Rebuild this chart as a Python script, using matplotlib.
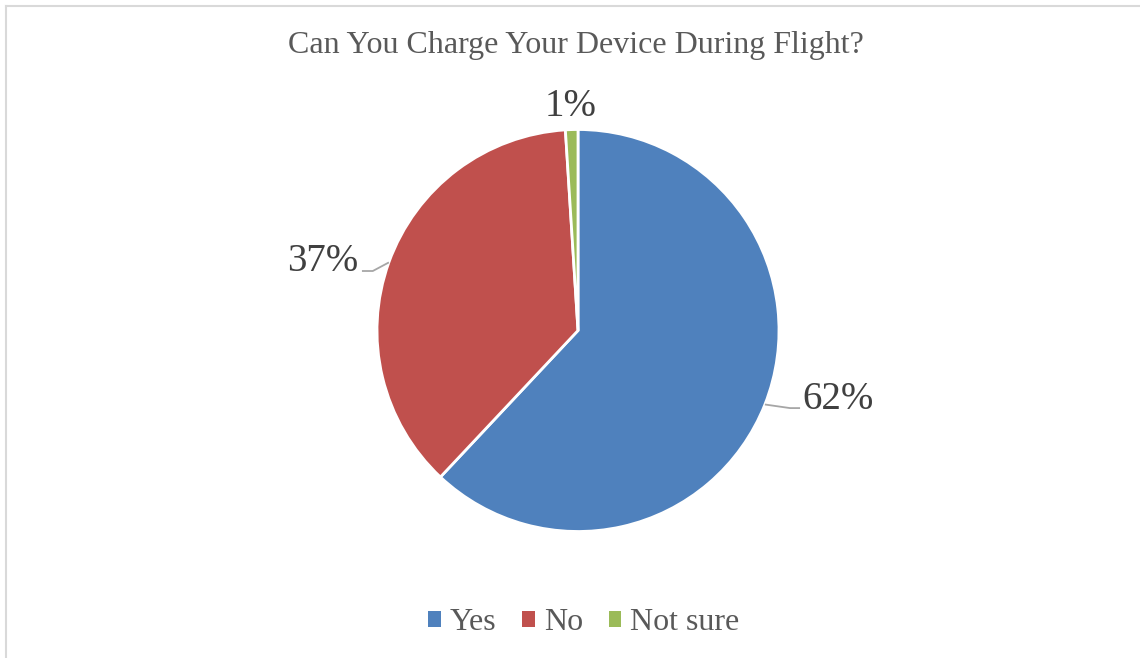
import matplotlib
matplotlib.use("Agg")
import matplotlib.pyplot as plt
from matplotlib.patches import Patch
import numpy as np

categories = ["Yes", "No", "Not sure"]
values = [62, 37, 1]
labels = ["62%", "37%", "1%"]
colors = ["#4F81BD", "#C0504D", "#9BBB59"]
title = "Can You Charge Your Device During Flight?"

W, H = 1140, 658
fig = plt.figure(figsize=(W / 100, H / 100), dpi=100)
plt.rcParams['font.family'] = ['Liberation Serif', 'DejaVu Serif']

# chart border (left and top only visible)
fig.add_artist(plt.Line2D([5.5 / W, 5.5 / W], [0, 1 - 6 / H], color="#d9d9d9", lw=1.5))
fig.add_artist(plt.Line2D([5.5 / W, 1], [1 - 6 / H, 1 - 6 / H], color="#d9d9d9", lw=1.5))

cx, cy, r = 578, 330.5, 201
ax = fig.add_axes([(cx - r) / W, 1 - (cy + r) / H, 2 * r / W, 2 * r / H])
wedges, _ = ax.pie(values, colors=colors, startangle=90, counterclock=False,
                   wedgeprops=dict(edgecolor="white", linewidth=2), radius=1)
ax.set_xlim(-1, 1)
ax.set_ylim(-1, 1)
ax.set_aspect("equal")
ax.axis("off")

# label layout: (x center, baseline y, leader y, elbow dx, end dx) in pie units
label_layout = [(1.296, -0.3905, -0.386, 0.125, 0.175),
                (-1.271, 0.296, 0.296, -0.08, -0.134),
                (-0.035, 1.067, None, None, None)]
text_color = "#404040"
line_color = "#a6a6a6"
for w, lab, lay in zip(wedges, labels, label_layout):
    tx, ty, ly, edx, enx = lay
    ax.text(tx, ty, lab, ha="center", va="baseline", fontsize=28,
            color=text_color, clip_on=False)
    if ly is not None:
        mid = np.deg2rad((w.theta1 + w.theta2) / 2)
        ex, ey = np.cos(mid), np.sin(mid)
        ax.plot([ex, ex + edx, ex + enx], [ey, ly, ly], color=line_color, lw=1.3,
                clip_on=False, solid_capstyle="butt")

fig.text(576 / W, 1 - 53 / H, title, ha="center", va="baseline", fontsize=23,
         color="#595959")

handles = [Patch(facecolor=c, edgecolor="none") for c in colors]
leg = fig.legend(handles, categories, loc="center", bbox_to_anchor=(584 / W, 1 - 623 / H),
                 ncol=3, frameon=False, fontsize=23, handlelength=0.4, handleheight=0.4,
                 handletextpad=0.28, columnspacing=0.8)
for t in leg.get_texts():
    t.set_color("#595959")

fig.savefig("out.png", dpi=100, facecolor="white")
